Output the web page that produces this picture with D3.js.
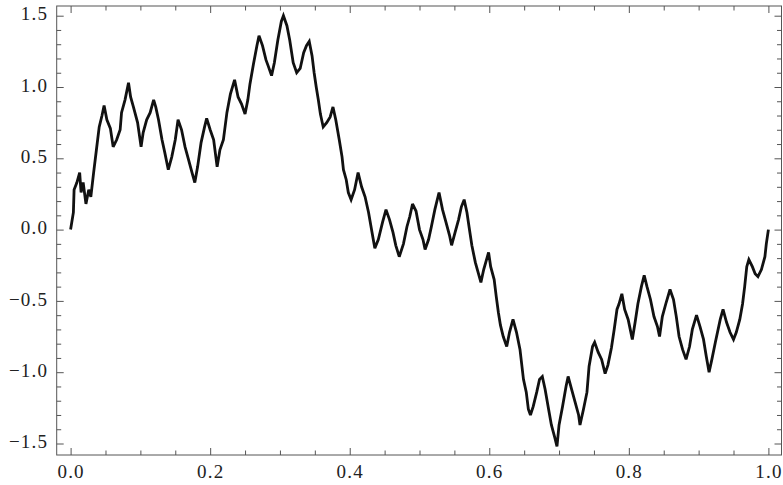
<!DOCTYPE html>
<html>
<head>
<meta charset="utf-8">
<script src="https://cdn.jsdelivr.net/npm/d3@7"></script>
<style>
  body { margin: 0; background: #fff; }
  svg { display: block; }
</style>
</head>
<body>
<script>
// values
var xVals = [0.000,0.004,0.005,0.009,0.013,0.015,0.018,0.022,0.026,0.029,0.033,0.037,0.041,0.045,0.048,0.052,0.057,0.061,0.066,0.071,
  0.073,0.078,0.083,0.086,0.090,0.096,0.101,0.104,0.109,0.114,0.119,0.122,0.126,0.131,0.135,0.140,0.145,0.150,0.154,0.159,
  0.164,0.169,0.174,0.178,0.182,0.187,0.192,0.195,0.200,0.205,0.210,0.214,0.219,0.224,0.229,0.235,0.240,0.245,0.250,0.254,
  0.257,0.262,0.267,0.270,0.275,0.280,0.283,0.288,0.292,0.297,0.302,0.305,0.310,0.314,0.319,0.324,0.329,0.334,0.338,0.342,
  0.346,0.349,0.352,0.355,0.358,0.362,0.367,0.372,0.376,0.380,0.385,0.389,0.391,0.395,0.398,0.402,0.407,0.412,0.417,0.422,
  0.427,0.432,0.436,0.441,0.447,0.452,0.457,0.462,0.466,0.471,0.477,0.482,0.486,0.490,0.495,0.500,0.505,0.508,0.513,0.517,
  0.522,0.528,0.533,0.538,0.543,0.546,0.551,0.556,0.560,0.564,0.568,0.571,0.575,0.580,0.584,0.588,0.592,0.599,0.602,0.607,
  0.610,0.613,0.616,0.620,0.625,0.629,0.634,0.639,0.644,0.649,0.653,0.656,0.659,0.663,0.668,0.672,0.676,0.680,0.685,0.689,
  0.694,0.697,0.700,0.705,0.710,0.713,0.718,0.723,0.728,0.730,0.735,0.740,0.743,0.748,0.751,0.756,0.761,0.766,0.770,0.775,
  0.779,0.783,0.786,0.790,0.794,0.799,0.805,0.809,0.813,0.818,0.822,0.826,0.831,0.836,0.841,0.844,0.848,0.853,0.859,0.864,
  0.868,0.872,0.877,0.882,0.887,0.891,0.897,0.902,0.907,0.911,0.915,0.919,0.924,0.931,0.935,0.940,0.945,0.950,0.954,0.959,
  0.963,0.966,0.969,0.972,0.977,0.981,0.985,0.990,0.995,0.997,1.000];

var yVals = [0.00,0.12,0.28,0.33,0.40,0.26,0.33,0.18,0.28,0.23,0.40,0.56,0.72,0.80,0.87,0.77,0.71,0.58,0.63,0.70,
  0.82,0.91,1.03,0.93,0.86,0.75,0.58,0.68,0.77,0.82,0.91,0.86,0.77,0.63,0.54,0.42,0.51,0.63,0.77,0.70,
  0.58,0.49,0.40,0.33,0.44,0.61,0.72,0.78,0.70,0.63,0.44,0.56,0.63,0.82,0.95,1.05,0.93,0.88,0.81,0.91,
  1.02,1.16,1.29,1.36,1.29,1.19,1.15,1.08,1.17,1.33,1.46,1.50,1.43,1.33,1.17,1.10,1.13,1.24,1.29,1.32,
  1.22,1.10,1.00,0.91,0.81,0.72,0.75,0.79,0.86,0.77,0.63,0.51,0.42,0.35,0.26,0.21,0.28,0.40,0.30,0.23,
  0.12,-0.02,-0.13,-0.07,0.05,0.14,0.07,-0.02,-0.11,-0.19,-0.10,0.02,0.09,0.18,0.13,0.00,-0.07,-0.14,-0.07,0.02,
  0.14,0.26,0.14,0.05,-0.04,-0.11,-0.02,0.07,0.16,0.21,0.12,0.02,-0.11,-0.23,-0.30,-0.37,-0.28,-0.16,-0.26,-0.35,
  -0.47,-0.58,-0.67,-0.75,-0.82,-0.72,-0.63,-0.72,-0.84,-1.05,-1.14,-1.26,-1.30,-1.24,-1.14,-1.05,-1.03,-1.12,-1.26,-1.37,
  -1.46,-1.52,-1.37,-1.24,-1.10,-1.03,-1.12,-1.21,-1.30,-1.37,-1.26,-1.14,-0.96,-0.82,-0.79,-0.86,-0.91,-1.01,-0.95,-0.83,
  -0.70,-0.56,-0.52,-0.45,-0.56,-0.63,-0.77,-0.65,-0.52,-0.40,-0.32,-0.40,-0.49,-0.61,-0.68,-0.75,-0.61,-0.52,-0.42,-0.49,
  -0.61,-0.75,-0.84,-0.91,-0.82,-0.70,-0.60,-0.68,-0.77,-0.89,-1.00,-0.91,-0.79,-0.63,-0.56,-0.65,-0.72,-0.77,-0.72,-0.63,
  -0.52,-0.40,-0.26,-0.21,-0.26,-0.31,-0.33,-0.28,-0.19,-0.10,0.00];

var xMajor = [0, 0.2, 0.4, 0.6, 0.8, 1.0];
var xMinor = [0.05,0.1,0.15,0.25,0.3,0.35,0.45,0.5,0.55,0.65,0.7,0.75,0.85,0.9,0.95];
var yMajor = [-1.5, -1.0, -0.5, 0, 0.5, 1.0, 1.5];
var yMinor = [-1.4,-1.3,-1.2,-1.1,-0.9,-0.8,-0.7,-0.6,-0.4,-0.3,-0.2,-0.1,
  0.1,0.2,0.3,0.4,0.6,0.7,0.8,0.9,1.1,1.2,1.3,1.4];

window.onload = function(){

  var W = 783, H = 485;
  // frame box
  var fL = 56.7, fR = 781.5, fT = 6, fB = 455;

  var x = d3.scaleLinear().domain([0, 1]).range([70.6, 768.4]);
  var y = d3.scaleLinear().domain([-1.5, 1.5]).range([443.5, 15.7]);

  var svg = d3.select(document.body)
    .append('svg')
    .attr('width', W)
    .attr('height', H);

  var fmt = d3.format('.1f');
  var axisColor = '#555';

  function styleAxis(g){
    g.select('.domain').remove();
    g.selectAll('line').attr('stroke', axisColor).attr('stroke-width', 1);
    g.selectAll('text')
      .attr('fill', '#222')
      .style('font-family', '"Liberation Serif", "Times New Roman", serif')
      .style('font-size', '19px')
      .style('letter-spacing', '1.2px');
  }

  // bottom: labels + major ticks (inward)
  svg.append('g').attr('transform', 'translate(0,' + fB + ')')
    .call(d3.axisBottom(x).tickValues(xMajor).tickSize(-7).tickPadding(9.5).tickFormat(fmt))
    .call(styleAxis);
  svg.append('g').attr('transform', 'translate(0,' + fB + ')')
    .call(d3.axisBottom(x).tickValues(xMinor).tickSize(-4.5).tickFormat(''))
    .call(styleAxis);

  // top ticks
  svg.append('g').attr('transform', 'translate(0,' + fT + ')')
    .call(d3.axisTop(x).tickValues(xMajor).tickSize(-7).tickFormat(''))
    .call(styleAxis);
  svg.append('g').attr('transform', 'translate(0,' + fT + ')')
    .call(d3.axisTop(x).tickValues(xMinor).tickSize(-4.5).tickFormat(''))
    .call(styleAxis);

  // left: labels + ticks
  svg.append('g').attr('transform', 'translate(' + fL + ',0)')
    .call(d3.axisLeft(y).tickValues(yMajor).tickSize(-7).tickPadding(8.5).tickFormat(fmt))
    .call(styleAxis)
    .selectAll('text').attr('dy', '0.22em');
  svg.append('g').attr('transform', 'translate(' + fL + ',0)')
    .call(d3.axisLeft(y).tickValues(yMinor).tickSize(-4.5).tickFormat(''))
    .call(styleAxis);

  // right ticks
  svg.append('g').attr('transform', 'translate(' + fR + ',0)')
    .call(d3.axisRight(y).tickValues(yMajor).tickSize(-7).tickFormat(''))
    .call(styleAxis);
  svg.append('g').attr('transform', 'translate(' + fR + ',0)')
    .call(d3.axisRight(y).tickValues(yMinor).tickSize(-4.5).tickFormat(''))
    .call(styleAxis);

  // frame
  svg.append('rect')
    .attr('x', fL).attr('y', fT)
    .attr('width', fR - fL).attr('height', fB - fT)
    .attr('fill', 'none')
    .attr('stroke', axisColor)
    .attr('stroke-width', 1);

  // the curve
  var pts = xVals.map(function(d, i){ return [d, yVals[i]]; });
  var line = d3.line()
    .x(function(d){ return x(d[0]); })
    .y(function(d){ return y(d[1]); });

  svg.append('path')
    .datum(pts)
    .attr('d', line)
    .attr('fill', 'none')
    .attr('stroke', '#111')
    .attr('stroke-width', 2.8)
    .attr('stroke-linejoin', 'miter')
    .attr('stroke-miterlimit', 3);
}
</script>
</body>
</html>
